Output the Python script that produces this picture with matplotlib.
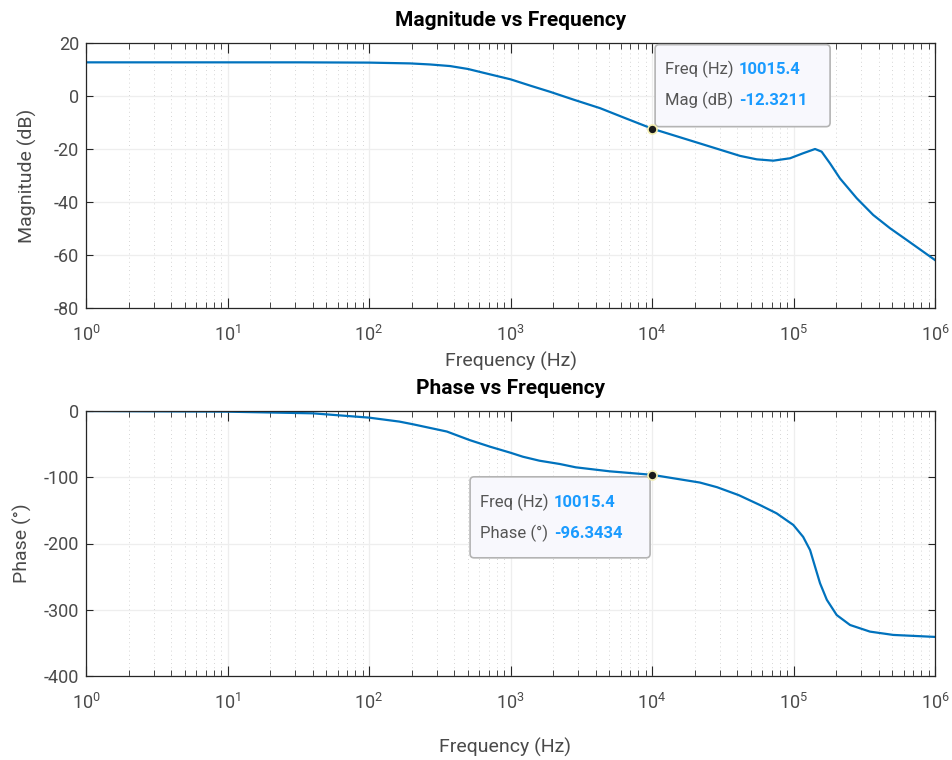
# Bode plot: magnitude and phase with data tips at 10 kHz
import matplotlib
matplotlib.use('Agg')
import matplotlib.pyplot as plt
from matplotlib.patches import FancyBboxPatch
from matplotlib.transforms import IdentityTransform
from matplotlib.ticker import LogLocator, NullFormatter

plt.rcParams['font.family'] = ['Roboto', 'DejaVu Sans']
plt.rcParams['mathtext.fontset'] = 'custom'
plt.rcParams['mathtext.rm'] = 'Roboto'
plt.rcParams['axes.unicode_minus'] = False

# magnitude curve (Hz, dB)
mag_freq = [1, 10, 32, 100, 195, 270, 374, 500, 640, 1000, 1400, 1900, 2800, 4300,
            6500, 10015.4, 21800, 41900, 55000, 72000, 94500, 117000, 142000, 158000,
            181000, 213000, 280000, 366000, 481000, 630000, 1000000]
mag_db = [12.7, 12.7, 12.7, 12.6, 12.3, 11.9, 11.3, 10.2, 8.8, 6.3, 3.8, 1.6, -1.4, -4.6,
          -8.4, -12.3211, -17.9, -22.6, -23.9, -24.4, -23.5, -21.6, -20.0, -21.0,
          -25.4, -31.1, -38.6, -44.9, -49.9, -54.3, -61.9]

# phase curve (Hz, deg)
ph_freq = [1, 10, 40, 100, 164, 204, 355, 516, 720, 1000, 1222, 1600, 2230, 2890, 5000,
           10015.4, 21800, 28800, 41000, 58000, 76000, 99700, 117000, 131000, 142000,
           154000, 172000, 202000, 251000, 347000, 507000, 1000000]
ph_deg = [0, -1, -3.5, -10, -16, -20, -31, -44, -54, -63, -69, -75, -80, -85, -91,
          -96.3434, -108, -115, -127, -142, -154.5, -172, -190, -210, -235,
          -260, -285, -308, -323, -333, -338, -341]

decades = [1e0, 1e1, 1e2, 1e3, 1e4, 1e5, 1e6]

tip_freq = 10015.4
tip_mag = -12.3211
tip_phase = -96.3434

blue = '#0072BD'
tip_blue = '#1a9bff'
grey_txt = '#4a4a4a'

fig = plt.figure(figsize=(9.52, 7.6), dpi=100)
ax1 = fig.add_axes([86/952, 1-308/760, 849/952, 265/760])
ax2 = fig.add_axes([86/952, 1-676/760, 849/952, 265/760])


def style_axes(ax, ylim, yticks):
    ax.set_xscale('log')
    ax.set_xlim(1, 1e6)
    ax.set_ylim(*ylim)
    ax.set_yticks(yticks)
    ax.set_xticks(decades)
    ax.xaxis.set_minor_locator(LogLocator(base=10, subs=range(2, 10), numticks=100))
    ax.xaxis.set_minor_formatter(NullFormatter())
    ax.tick_params(which='both', direction='in', top=True, right=True,
                   colors='#262626', labelcolor=grey_txt, labelsize=13)
    ax.tick_params(axis='x', which='major', length=7, pad=12)
    ax.tick_params(axis='x', which='minor', length=4)
    ax.tick_params(axis='y', which='major', length=5, pad=5)
    ax.grid(which='major', color='#eeeeee', linewidth=0.9)
    ax.grid(which='minor', axis='x', color='#c8c8c8', linestyle=(0, (1, 4)),
            linewidth=0.6)
    ax.set_axisbelow(True)
    for sp in ax.spines.values():
        sp.set_color('#262626')
        sp.set_linewidth(0.9)


def data_tip(ax, x, y, lines, dx0, dx1, dy0, dy1, tx, ty):
    # box placed in pixels relative to the marked point
    px, py = ax.transData.transform((x, y))
    box = FancyBboxPatch((px + dx0, py + dy0), dx1 - dx0, dy1 - dy0,
                         boxstyle='round,pad=0,rounding_size=4',
                         transform=IdentityTransform(), facecolor='#f8f8fd',
                         edgecolor='#b4b4b4', linewidth=1.2, zorder=5, clip_on=False)
    ax.add_artist(box)
    for i, (lab, val) in enumerate(lines):
        t = ax.text(px + tx, py + ty - i * 31, lab, transform=IdentityTransform(),
                    ha='left', va='center', fontsize=12, color='#555555', zorder=6,
                    clip_on=False)
        ax.annotate(val, xy=(1, 0.5), xycoords=t, xytext=(4, 0),
                    textcoords='offset points', va='center', ha='left',
                    fontsize=12, fontweight='bold', color=tip_blue, zorder=6,
                    annotation_clip=False)
    ax.plot([x], [y], 'o', color='#1a1a1a', markersize=6.5,
            markeredgecolor='#f3eeb0', markeredgewidth=1.2, zorder=7, clip_on=False)


# magnitude
style_axes(ax1, (-80, 20), [-80, -60, -40, -20, 0, 20])
ax1.plot(mag_freq, mag_db, color=blue, linewidth=1.6)
ax1.text(0.5, 1 + 23/265, 'Magnitude vs Frequency', transform=ax1.transAxes,
         ha='center', va='center', fontsize=15, fontweight='bold', color='black')
ax1.set_xlabel('Frequency (Hz)', fontsize=14, color=grey_txt)
ax1.xaxis.set_label_coords(0.5, -53/265)
ax1.set_ylabel('Magnitude (dB)', fontsize=14, color=grey_txt)
ax1.yaxis.set_label_coords(-59/849, 0.5)

# phase
style_axes(ax2, (-400, 0), [-400, -300, -200, -100, 0])
ax2.plot(ph_freq, ph_deg, color=blue, linewidth=1.6)
ax2.text(0.5, 1 + 23/265, 'Phase vs Frequency', transform=ax2.transAxes,
         ha='center', va='center', fontsize=15, fontweight='bold', color='black')
ax2.set_xlabel('Frequency (Hz)', fontsize=14, color=grey_txt)
ax2.xaxis.set_label_coords(0.493, -71/265)
ax2.set_ylabel('Phase (°)', fontsize=14, color=grey_txt)
ax2.yaxis.set_label_coords(-64/849, 0.5)

for lab in ax1.xaxis.get_label(), ax2.xaxis.get_label():
    lab.set_va('center')
for lab in ax1.yaxis.get_label(), ax2.yaxis.get_label():
    lab.set_va('center')

data_tip(ax1, tip_freq, tip_mag,
         [('Freq (Hz)', '10015.4'), ('Mag (dB)', '%.4f' % tip_mag)],
         3, 178, 2, 84, 13, 59)
data_tip(ax2, tip_freq, tip_phase,
         [('Freq (Hz)', '10015.4'), ('Phase (°)', '%.4f' % tip_phase)],
         -182, -2, -83, -2, -172, -28)

fig.savefig('out.png', dpi=100)
